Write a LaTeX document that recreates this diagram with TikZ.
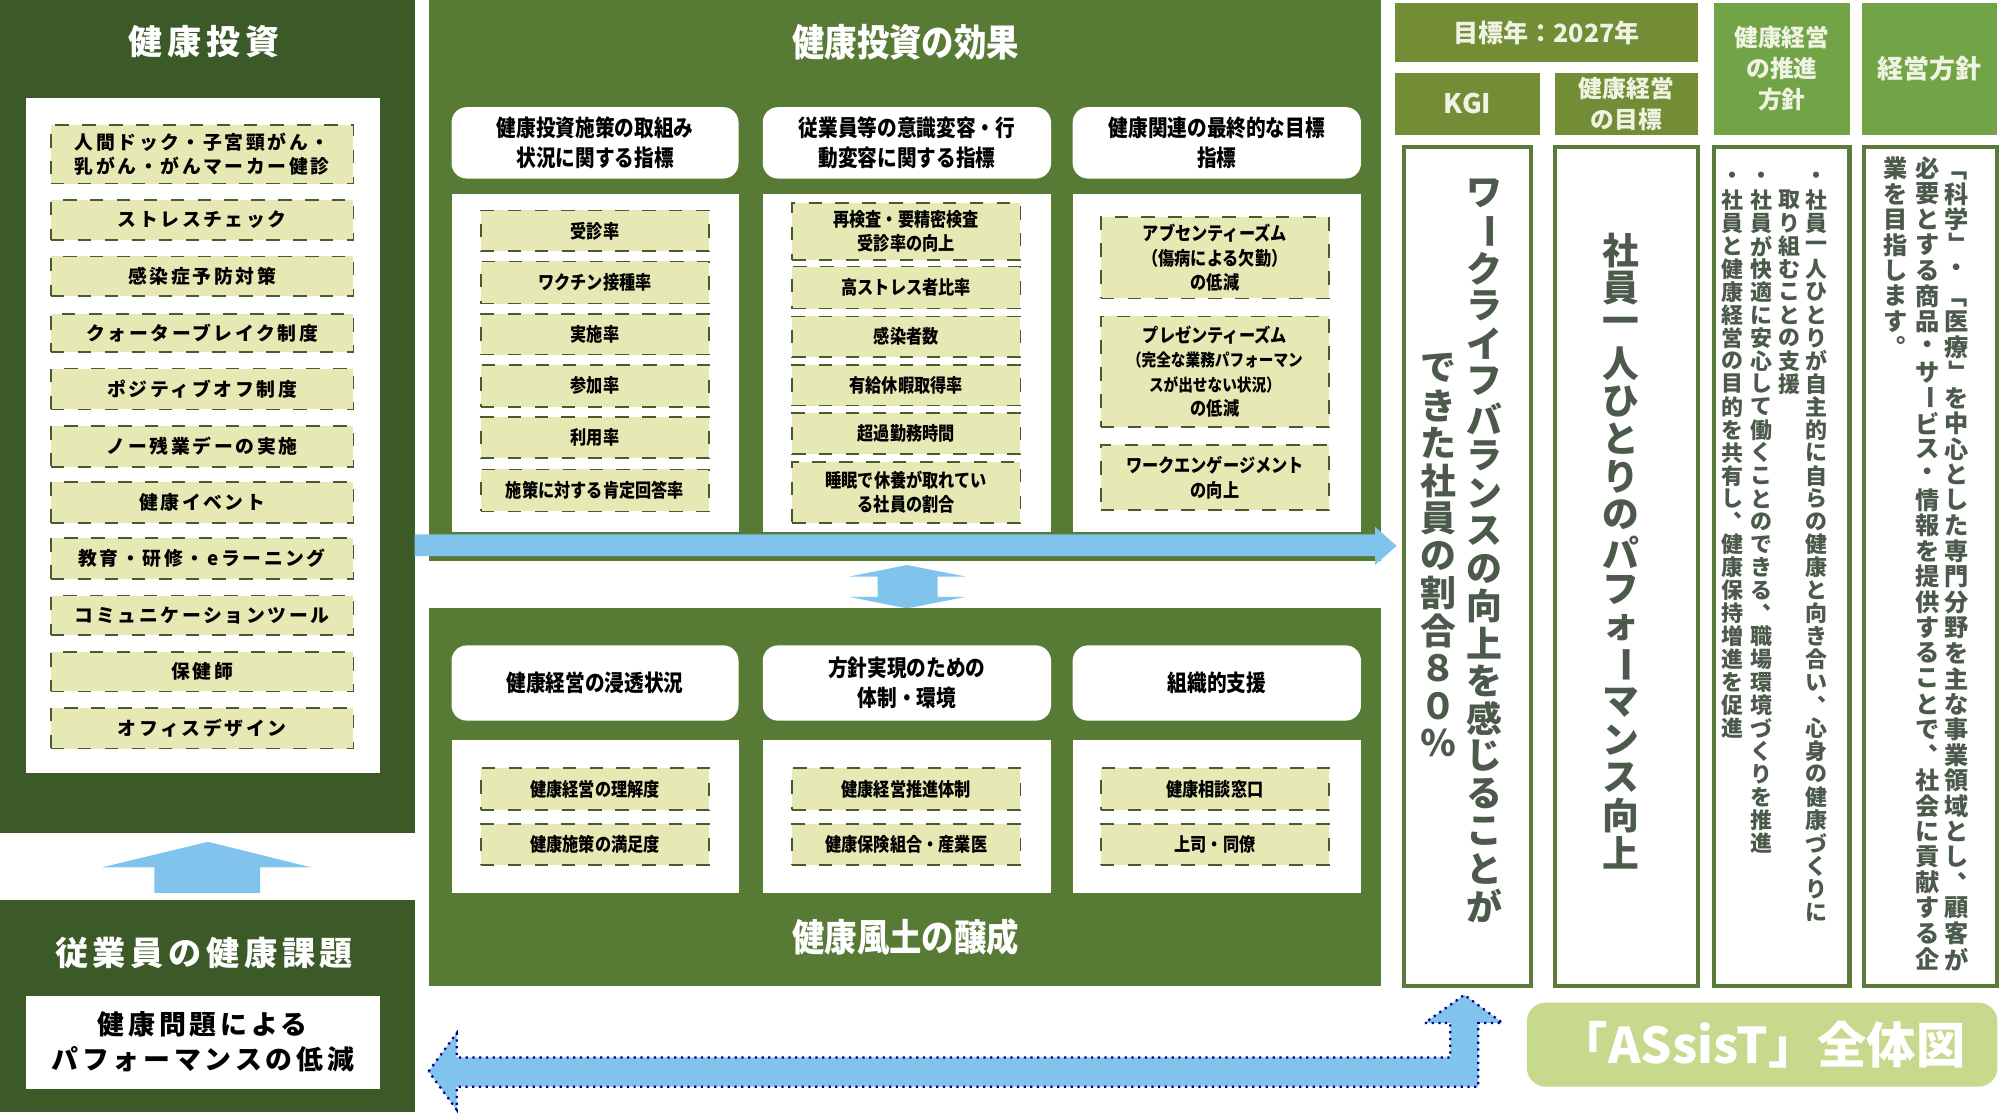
\documentclass[tikz,border=0pt]{standalone}
\usepackage{fontspec}
\usepackage{graphicx}
\setmainfont{Noto Sans CJK JP}
\newfontfamily\jpwide[LetterSpace=14]{Noto Sans CJK JP}
\newfontfamily\jpcond[FakeStretch=0.86]{Noto Sans CJK JP}
\definecolor{dkg}{HTML}{3C5A28}
\definecolor{mdg}{HTML}{577A35}
\definecolor{itf}{HTML}{E6E9B4}
\definecolor{itb}{HTML}{4A5A2A}
\definecolor{blu}{HTML}{80C4EE}
\definecolor{olv}{HTML}{738C36}
\definecolor{brg}{HTML}{72A447}
\definecolor{vtx}{HTML}{4B5A4B}
\definecolor{bxb}{HTML}{5B7A3C}
\definecolor{ast}{HTML}{C6D98C}
\definecolor{hdt}{HTML}{EEF3E2}
\newcommand\fs[1]{\fontsize{#1pt}{1.3\dimexpr#1pt\relax}\selectfont}
% vertical text
\def\vchou{ー}\def\vlb{「}\def\vrb{」}\def\vcm{、}\def\vpd{。}
\def\vglyph#1{\def\vtmp{#1}%
\ifx\vtmp\vchou\rotatebox[origin=c]{-90}{ー}\else
\ifx\vtmp\vlb\rotatebox[origin=c]{-90}{「}\else
\ifx\vtmp\vrb\rotatebox[origin=c]{-90}{」}\else
\ifx\vtmp\vcm\hbox to 1em{\vphantom{あ}\kern.55em\smash{\raise.55em\hbox{、}}\hss}\else
\ifx\vtmp\vpd\hbox to 1em{\vphantom{あ}\kern.55em\smash{\raise.55em\hbox{。}}\hss}\else
#1\fi\fi\fi\fi\fi}
\def\vcell#1{\hbox to 1.1em{\hss\vbox to \vtpitch{\vss\hbox{\vglyph{#1}}\vss}\hss}}
\def\vtloop#1{\ifx\relax#1\else\vcell{#1}\expandafter\vtloop\fi}
\newcommand\vstack[2]{\def\vtpitch{#1}\vbox{\offinterlineskip\vtloop#2\relax}}
\newcommand\bx[7]{\node[#1, minimum width={(#4-#2)*0.1mm}, minimum height={(#5-#3)*0.1mm}] (#6) at ({(#2+#4)/2},{(#3+#5)/2}) {#7};}
\tikzset{
 base/.style={inner sep=0pt, outer sep=0pt, align=center},
 panelD/.style={base, fill=dkg, draw=none},
 panelM/.style={base, fill=mdg, draw=none},
 wbox/.style={base, fill=white, draw=none},
 hdr/.style={base, fill=white, rounded corners=1.2mm, font=\jpcond\bfseries\fs{5.1}},
 item/.style={base, fill=itf, draw=itb, dashed, line width=0.35pt, font=\jpcond\bfseries\fs{4.2}},
 litem/.style={base, fill=itf, draw=itb, dashed, line width=0.35pt, font=\jpwide\bfseries\fs{4.2}},
 rh/.style={base, text=hdt, font=\bfseries\fs{5.6}},
 vbox/.style={base, fill=white, draw=bxb, line width=0.9pt},
 vt/.style={inner sep=0pt, outer sep=0pt, anchor=north, text=vtx},
 arr/.style={fill=blu, draw=none},
 ttl/.style={inner sep=0pt, text=white, font=\bfseries\fs{8}},
}
\begin{document}
\begin{tikzpicture}[x=0.1mm,y=-0.1mm]
\useasboundingbox (0,0) rectangle (1568,872);
% ---------- left ----------
\bx{panelD}{0}{0}{325}{653}{pInv}{}
\node[ttl, font=\jpwide\bfseries\fs{7.6}] (tInv) at (160,33) {健康投資};
\bx{wbox}{20}{77}{298}{606}{wInv}{}
\bx{litem}{40}{98}{277}{144}{l1}{人間ドック・子宮頸がん・\\乳がん・がんマーカー健診}
\bx{litem}{40}{157}{277}{188}{l2}{ストレスチェック}
\bx{litem}{40}{201}{277}{232}{l3}{感染症予防対策}
\bx{litem}{40}{246}{277}{276}{l4}{クォーターブレイク制度}
\bx{litem}{40}{289}{277}{321}{l5}{ポジティブオフ制度}
\bx{litem}{40}{334}{277}{366}{l6}{ノー残業デーの実施}
\bx{litem}{40}{378}{277}{410}{l7}{健康イベント}
\bx{litem}{40}{422}{277}{454}{l8}{教育・研修・eラーニング}
\bx{litem}{40}{467}{277}{498}{l9}{コミュニケーションツール}
\bx{litem}{40}{511}{277}{542}{l10}{保健師}
\bx{litem}{40}{555}{277}{587}{l11}{オフィスデザイン}
\fill[arr] (121,700) -- (121,680) -- (80,680) -- (163,660) -- (244,680) -- (204,680) -- (204,700) -- cycle;
\bx{panelD}{0}{706}{325}{872}{pIss}{}
\node[ttl, font=\jpwide\bfseries\fs{7.4}] (tIss) at (160,747) {従業員の健康課題};
\bx{wbox}{20}{781}{298}{854}{wIss}{}
\node[base, font=\jpwide\bfseries\fs{6}] (xIss) at (159,817) {健康問題による\\パフォーマンスの低減};
% ---------- middle top ----------
\bx{panelM}{336}{0}{1083}{440}{pEff}{}
\node[ttl, font=\jpcond\bfseries\fs{8.4}] (tEff) at (710,33) {健康投資の効果};
\bx{hdr}{354}{84}{579}{140}{h1}{健康投資施策の取組み\\状況に関する指標}
\bx{hdr}{598}{84}{824}{140}{h2}{従業員等の意識変容・行\\動変容に関する指標}
\bx{hdr}{841}{84}{1067}{140}{h3}{健康関連の最終的な目標\\指標}
\bx{wbox}{354}{152}{579}{417}{c1}{}
\bx{wbox}{598}{152}{824}{417}{c2}{}
\bx{wbox}{841}{152}{1067}{417}{c3}{}
\bx{item}{377}{165}{556}{197}{a1}{受診率}
\bx{item}{377}{205}{556}{238}{a2}{ワクチン接種率}
\bx{item}{377}{246}{556}{278}{a3}{実施率}
\bx{item}{377}{286}{556}{319}{a4}{参加率}
\bx{item}{377}{327}{556}{359}{a5}{利用率}
\bx{item}{377}{368}{556}{401}{a6}{施策に対する肯定回答率}
\bx{item}{621}{159}{800}{204}{b1}{再検査・要精密検査\\受診率の向上}
\bx{item}{621}{209}{800}{242}{b2}{高ストレス者比率}
\bx{item}{621}{248}{800}{280}{b3}{感染者数}
\bx{item}{621}{286}{800}{318}{b4}{有給休暇取得率}
\bx{item}{621}{324}{800}{356}{b5}{超過勤務時間}
\bx{item}{621}{362}{800}{410}{b6}{睡眠で休養が取れてい\\る社員の割合}
\bx{item}{863}{170}{1042}{234}{d1}{アブセンティーズム\\（傷病による欠勤）\\の低減}
\bx{item}{863}{248}{1042}{335}{d2}{プレゼンティーズム\\{\fs{3.8}（完全な業務パフォーマン}\\{\fs{3.8}スが出せない状況）}\\の低減}
\bx{item}{863}{349}{1042}{400}{d3}{ワークエンゲージメント\\の向上}
\fill[arr] (325,419) -- (1078,419) -- (1078,413) -- (1095,428) -- (1078,443) -- (1078,436) -- (325,436) -- cycle;
\fill[arr] (711,443) -- (757,452) -- (735,452) -- (735,468) -- (757,468) -- (711,477) -- (666,468) -- (688,468) -- (688,452) -- (666,452) -- cycle;
% ---------- middle bottom ----------
\bx{panelM}{336}{477}{1083}{773}{pCul}{}
\bx{hdr}{354}{506}{579}{565}{g1}{健康経営の浸透状況}
\bx{hdr}{598}{506}{824}{565}{g2}{方針実現のための\\体制・環境}
\bx{hdr}{841}{506}{1067}{565}{g3}{組織的支援}
\bx{wbox}{354}{580}{579}{700}{e1}{}
\bx{wbox}{598}{580}{824}{700}{e2}{}
\bx{wbox}{841}{580}{1067}{700}{e3}{}
\bx{item}{377}{602}{556}{635}{f1}{健康経営の理解度}
\bx{item}{377}{646}{556}{678}{f2}{健康施策の満足度}
\bx{item}{621}{602}{800}{635}{f3}{健康経営推進体制}
\bx{item}{621}{646}{800}{678}{f4}{健康保険組合・産業医}
\bx{item}{863}{602}{1042}{635}{f5}{健康相談窓口}
\bx{item}{863}{646}{1042}{678}{f6}{上司・同僚}
\node[ttl, font=\jpcond\bfseries\fs{8.4}] (tCul) at (710,735) {健康風土の醸成};
% bottom L arrow
\filldraw[fill=blu, draw=blue!50!black, densely dotted, line width=0.5pt] (336,840) -- (358,810) -- (358,829) -- (1137,829) -- (1137,802) -- (1117,802) -- (1148,780) -- (1178,802) -- (1159,802) -- (1159,852) -- (358,852) -- (358,870) -- cycle;
% ---------- right ----------
\bx{rh, fill=olv}{1094}{2}{1331}{49}{r0}{目標年：2027年}
\bx{rh, fill=olv, font=\bfseries\fs{6}}{1094}{57}{1207}{106}{r1}{KGI}
\bx{rh, fill=olv, font=\bfseries\fs{5.3}}{1219}{57}{1331}{106}{r2}{健康経営\\の目標}
\bx{rh, fill=brg, font=\bfseries\fs{5.3}}{1344}{2}{1450}{106}{r3}{健康経営\\の推進\\方針}
\bx{rh, fill=brg, font=\bfseries\fs{5.8}}{1460}{2}{1566}{106}{r4}{経営方針}
\bx{vbox}{1101}{115}{1200}{773}{v1}{}
\bx{vbox}{1219}{115}{1331}{773}{v2}{}
\bx{vbox}{1344}{115}{1450}{773}{v3}{}
\bx{vbox}{1461}{115}{1566}{773}{v4}{}
\node[vt, font=\bfseries\fs{8}] (k1) at (1164,137) {\vstack{2.94mm}{ワークライフバランスの向上を感じることが}};
\node[vt, font=\bfseries\fs{8}] (k2) at (1128,274) {\vstack{2.94mm}{できた社員の割合８０％}};
\node[vt, font=\bfseries\fs{8.2}] (m1) at (1271,182) {\vstack{2.95mm}{社員一人ひとりのパフォーマンス向上}};
\node[vt, font=\bfseries\fs{4.9}] (s1) at (1424,130) {\vstack{1.8mm}{・社員一人ひとりが自主的に自らの健康と向き合い、心身の健康づくりに}};
\node[vt, font=\bfseries\fs{4.9}] (s2) at (1403,148) {\vstack{1.8mm}{取り組むことの支援}};
\node[vt, font=\bfseries\fs{4.9}] (s3) at (1381,130) {\vstack{1.8mm}{・社員が快適に安心して働くことのできる、職場環境づくりを推進}};
\node[vt, font=\bfseries\fs{4.9}] (s4) at (1358,130) {\vstack{1.8mm}{・社員と健康経営の目的を共有し、健康保持増進を促進}};
\node[vt, font=\bfseries\fs{5.4}] (p1) at (1534,122) {\vstack{2.0mm}{「科学」・「医療」を中心とした専門分野を主な事業領域とし、顧客が}};
\node[vt, font=\bfseries\fs{5.4}] (p2) at (1511,122) {\vstack{2.0mm}{必要とする商品・サービス・情報を提供することで、社会に貢献する企}};
\node[vt, font=\bfseries\fs{5.4}] (p3) at (1486,122) {\vstack{2.0mm}{業を目指します。}};
\node[base, fill=ast, rounded corners=1.5mm, minimum width=36.9mm, minimum height=6.6mm, text=white, font=\bfseries\fs{11}] (asst) at (1381.5,819) {「ASsisT」全体図};
\end{tikzpicture}
\end{document}
